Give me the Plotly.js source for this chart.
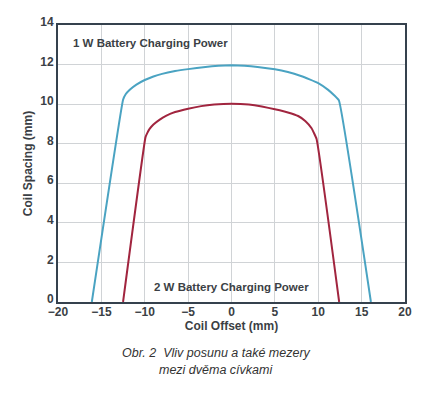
<!DOCTYPE html>
<html>
<head>
<meta charset="utf-8">
<script src="https://cdn.plot.ly/plotly-3.0.1.min.js"></script>
<style>html,body{margin:0;padding:0;background:#fff;}#chart{width:427px;height:394px;}</style>
</head>
<body>
<div id="chart"></div>
<script>
// 1 W battery charging power (blue)
const offset1W = [-16.1, -12.5, -12.2, -11.73, -10.96, -10, -9, -8, -6.5, -5, -3, -1.5, 0, 1.5, 3, 5, 6.5, 8, 9, 10, 11.14, 11.8, 12.38, 16.07];
const spacing1W = [0, 10.22, 10.5, 10.73, 10.99, 11.22, 11.4, 11.53, 11.67, 11.77, 11.88, 11.94, 11.96, 11.94, 11.88, 11.76, 11.62, 11.42, 11.25, 11.06, 10.72, 10.46, 10.19, 0];
// 2 W battery charging power (red)
const offset2W = [-12.5, -9.92, -9.7, -9.42, -9, -8.27, -7.5, -6.5, -5, -3.5, -2, 0, 2, 3.5, 5, 6.5, 7.68, 8.5, 9.23, 9.8, 12.41];
const spacing2W = [0, 8.32, 8.55, 8.76, 8.97, 9.22, 9.42, 9.6, 9.77, 9.9, 9.98, 10.02, 9.98, 9.88, 9.74, 9.58, 9.4, 9.15, 8.78, 8.25, 0];
const xTicks = [-20, -15, -10, -5, 0, 5, 10, 15, 20];
const yTicks = [0, 2, 4, 6, 8, 10, 12, 14];

const font = "Liberation Sans, Arial, sans-serif";
const textColor = "#3b3f45";

const traces = [
  {x: offset1W, y: spacing1W, mode: "lines", line: {color: "#4aa3c2", width: 2, shape: "spline", smoothing: 0.3}, showlegend: false, hoverinfo: "skip"},
  {x: offset2W, y: spacing2W, mode: "lines", line: {color: "#a1253f", width: 2, shape: "spline", smoothing: 0.3}, showlegend: false, hoverinfo: "skip"}
];

const layout = {
  width: 427, height: 394,
  margin: {l: 58, r: 22, t: 25, b: 92, pad: 0},
  paper_bgcolor: "#fff", plot_bgcolor: "#fff",
  font: {family: font, color: textColor, size: 12},
  xaxis: {
    range: [-20, 20], tickvals: xTicks, ticktext: xTicks.map(v => v < 0 ? "\u2212" + Math.abs(v) : String(v)),
    showgrid: true, gridcolor: "#d0d3d6", gridwidth: 1, zeroline: false,
    showline: true, linecolor: "#35414d", linewidth: 2, mirror: true,
    ticks: "", ticklabelstandoff: -2, tickfont: {family: font, size: 12, color: textColor, weight: "bold"},
    title: {text: "<b>Coil Offset (mm)</b>", font: {family: font, size: 12, color: textColor}, standoff: 1}
  },
  yaxis: {
    range: [0, 14], tickvals: yTicks,
    showgrid: true, gridcolor: "#d0d3d6", gridwidth: 1, zeroline: false,
    showline: true, linecolor: "#35414d", linewidth: 2, mirror: true,
    ticks: "", ticklabelshift: -3, tickfont: {family: font, size: 12, color: textColor, weight: "bold"},
    title: {text: "<b>Coil Spacing (mm)</b>", font: {family: font, size: 12, color: textColor}, standoff: 5}
  },
  annotations: [
    {x: -18.55, y: 13.1, xref: "x", yref: "y", xanchor: "left", yanchor: "middle", showarrow: false,
     text: "<b>1 W Battery Charging Power</b>", font: {family: font, size: 11.5, color: textColor}},
    {x: 0, y: 0.78, xref: "x", yref: "y", xanchor: "center", yanchor: "middle", showarrow: false,
     text: "<b>2 W Battery Charging Power</b>", font: {family: font, size: 11.5, color: textColor}},
    {x: 0.458, y: -0.183, xref: "paper", yref: "paper", xanchor: "center", yanchor: "middle", showarrow: false,
     text: "<i>Obr. 2  Vliv posunu a také mezery</i>", font: {family: font, size: 12.5, color: "#333"}},
    {x: 0.455, y: -0.245, xref: "paper", yref: "paper", xanchor: "center", yanchor: "middle", showarrow: false,
     text: "<i>mezi dvěma cívkami</i>", font: {family: font, size: 12.5, color: "#333"}}
  ]
};

Plotly.newPlot("chart", traces, layout, {displayModeBar: false, staticPlot: true});
</script>
</body>
</html>
